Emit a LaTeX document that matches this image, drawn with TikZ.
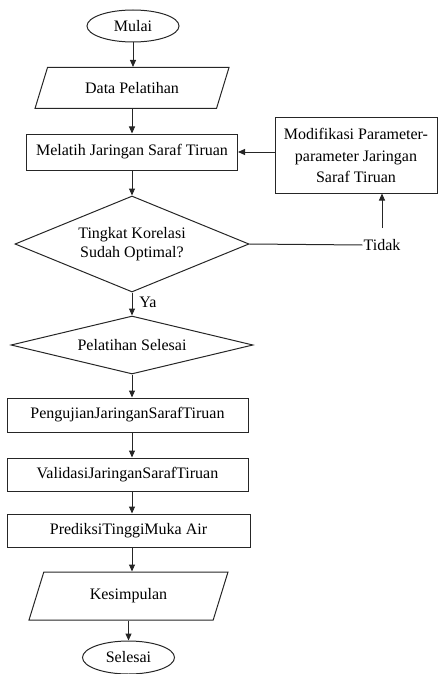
\documentclass[tikz,border=0pt]{standalone}
\usepackage{fontspec}
\setmainfont{Liberation Serif}
\usetikzlibrary{shapes.geometric,arrows.meta,calc}
\begin{document}
\begin{tikzpicture}[x=1pt,y=-1pt,
 every node/.style={font=\fontsize{16}{19}\selectfont, text=black},
 ln/.style={line width=1pt, draw=black!85},
 arr/.style={ln, -{Triangle[length=7pt,width=6pt]}},
 box/.style={ln, rectangle, inner sep=0pt, align=center},
 term/.style={ln, ellipse, inner sep=0pt},
 para/.style={ln, trapezium, trapezium stretches body=true, inner sep=0pt},
 dec/.style={ln, diamond, inner sep=0pt, align=center},
 lbl/.style={inner sep=0pt}]
\useasboundingbox (0,0) rectangle (438,674);
\node[term, minimum width=92, minimum height=32] (mulai) at (133,26) {Mulai};
\node[para, minimum width=194, minimum height=41, trapezium left angle=42, trapezium right angle=138] (data) at (132,88) {Data Pelatihan};
\node[box, minimum width=211, minimum height=36] (latih) at (132,152) {Melatih Jaringan Saraf Tiruan};
\node[box, minimum width=162, minimum height=75, font=\fontsize{16}{21.5}\selectfont] (mod) at (356,155.5) {Modifikasi Parameter-\\parameter Jaringan\\Saraf Tiruan};
\node[dec, aspect=2.44, minimum width=234, minimum height=96] (kor) at (132,244) {Tingkat Korelasi\\Sudah Optimal?};
\node[lbl, inner xsep=1pt] (tidak) at (382,245) {Tidak};
\node[lbl] (ya) at (148,302) {Ya};
\node[dec, aspect=4.17, minimum width=242, minimum height=58] (sel) at (132,345) {Pelatihan Selesai};
\node[box, minimum width=241, minimum height=34] (uji) at (127.5,415) {PengujianJaringanSarafTiruan};
\node[box, minimum width=241, minimum height=33] (val) at (127.5,474.5) {ValidasiJaringanSarafTiruan};
\node[box, minimum width=243, minimum height=33] (pred) at (128.5,530.5) {PrediksiTinggiMuka Air};
\node[para, minimum width=199, minimum height=48, trapezium left angle=44.4, trapezium right angle=135.6] (kes) at (128.5,596) {Kesimpulan};
\node[term, minimum width=92, minimum height=33] (selesai) at (128.5,657.5) {Selesai};
\coordinate (col) at (132,0);
\draw[arr] (mulai.south) -- (mulai.south |- data.north);
\draw[arr] (data.south) -- (data.south |- latih.north);
\draw[arr] (latih.south) -- (latih.south |- kor.north);
\draw[arr] (kor.south) -- (kor.south |- sel.north);
\draw[arr] (sel.south) -- (sel.south |- uji.north);
\draw[arr] (uji.south -| col) -- (val.north -| col);
\draw[arr] (val.south -| col) -- (pred.north -| col);
\draw[arr] (pred.south -| col) -- (kes.north -| col);
\draw[arr] (kes.south) -- (kes.south |- selesai.north);
\draw[ln] (kor.east) -- (tidak.west);
\draw[arr] ([yshift=11pt]tidak.north) -- (mod.south -| tidak.north);
\draw[arr] (latih.east -| mod.west) -- (latih.east);
\end{tikzpicture}
\end{document}
